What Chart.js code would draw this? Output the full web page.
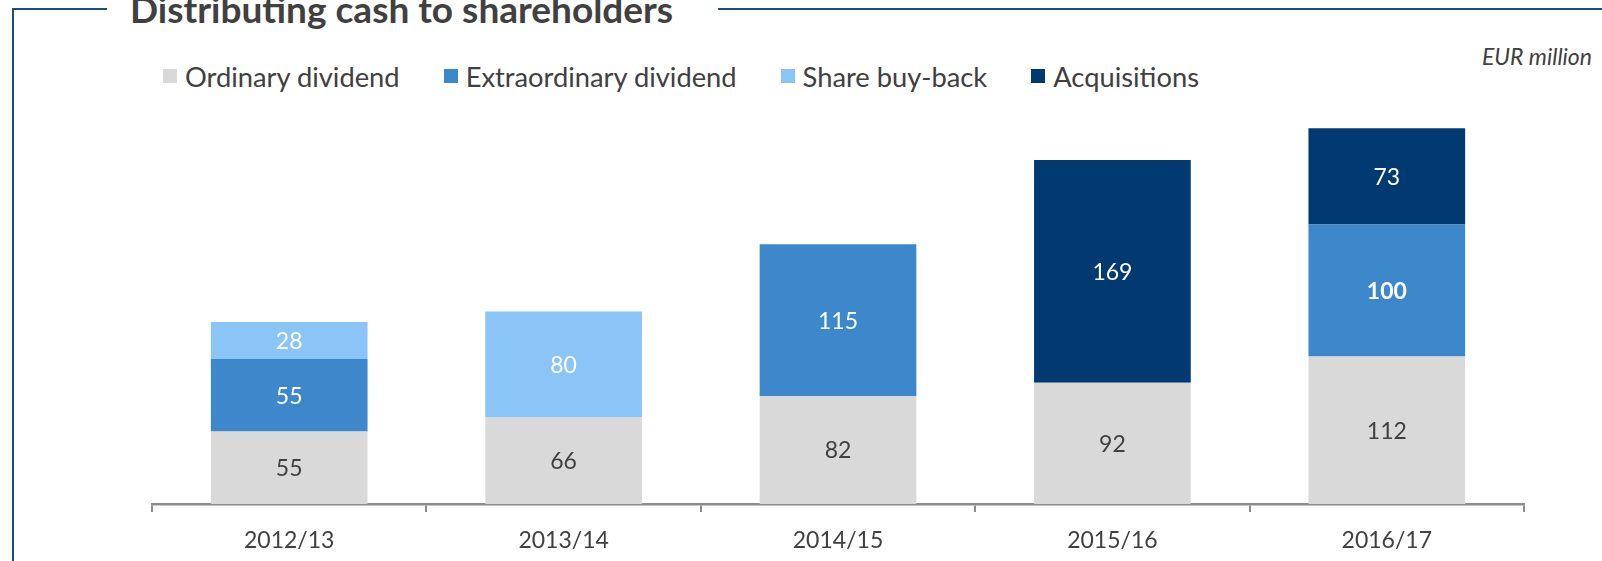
<!DOCTYPE html>
<html>
<head>
<meta charset="utf-8">
<script src="https://cdn.jsdelivr.net/npm/chart.js@4"></script>
<style>
  html, body { margin:0; padding:0; background:#fff; }
  body { width:1602px; height:561px; position:relative; overflow:hidden; font-family:"Lato", sans-serif; color:#404040; }
  .line { position:absolute; background:#1F4E79; }
  #title { position:absolute; left:130px; top:-10px; font-size:37px; font-weight:700; line-height:37px; white-space:nowrap; color:#404040; }
  #unit { position:absolute; right:10px; top:43px; font-size:23px; font-style:italic; line-height:26px; color:#404040; }
  #legend { position:absolute; left:163px; top:61px; height:30px; display:flex; align-items:center; font-size:27.3px; white-space:nowrap; }
  .item { display:flex; align-items:center; margin-right:44px; }
  .sw { width:14px; height:14px; margin-right:8px; }
  #wrap { position:absolute; left:0; top:0; width:1602px; height:561px; }
</style>
</head>
<body>
<div class="line" style="left:12px; top:8px; width:95px; height:2px;"></div>
<div class="line" style="left:718px; top:8px; width:884px; height:2px;"></div>
<div class="line" style="left:12px; top:8px; width:2px; height:553px;"></div>
<div id="title">Distributing cash to shareholders</div>
<div id="unit">EUR million</div>
<div id="legend"></div>
<div id="wrap"><canvas id="c" width="1602" height="561"></canvas></div>
<script>
const categories = ['2012/13', '2013/14', '2014/15', '2015/16', '2016/17'];
const seriesNames = ['Ordinary dividend', 'Extraordinary dividend', 'Share buy-back', 'Acquisitions'];
const ordinaryDividend      = [55, 66, 82, 92, 112];
const extraordinaryDividend = [55, null, 115, null, 100];
const shareBuyBack          = [28, 80, null, null, null];
const acquisitions          = [null, null, null, 169, 73];

const colors = ['#D9D9D9', '#3D88CB', '#8BC4F6', '#003A70'];
const labelColors = ['#404040', '#ffffff', '#ffffff', '#ffffff'];
const boldLabel = { dataset: 1, index: 4 };

// HTML legend
const legendEl = document.getElementById('legend');
seriesNames.forEach((n, i) => {
  const it = document.createElement('div'); it.className = 'item';
  const sw = document.createElement('div'); sw.className = 'sw'; sw.style.background = colors[i];
  const tx = document.createElement('span'); tx.textContent = n;
  it.appendChild(sw); it.appendChild(tx); legendEl.appendChild(it);
});

const barLabels = {
  id: 'barLabels',
  afterDatasetsDraw(chart) {
    const ctx = chart.ctx;
    ctx.save();
    ctx.textAlign = 'center';
    ctx.textBaseline = 'middle';
    chart.data.datasets.forEach((ds, i) => {
      const meta = chart.getDatasetMeta(i);
      meta.data.forEach((bar, j) => {
        const v = ds.data[j];
        if (v == null) return;
        const p = bar.getProps(['x', 'y', 'base'], true);
        const bold = (i === boldLabel.dataset && j === boldLabel.index);
        ctx.font = (bold ? '700 ' : '400 ') + '23px Lato';
        ctx.fillStyle = labelColors[i];
        ctx.fillText(String(v), p.x, (p.y + p.base) / 2 + 1);
      });
    });
    ctx.restore();
  }
};

const seriesData = [ordinaryDividend, extraordinaryDividend, shareBuyBack, acquisitions];

new Chart(document.getElementById('c'), {
  type: 'bar',
  data: {
    labels: categories,
    datasets: seriesNames.map((n, i) => ({
      label: n,
      data: seriesData[i],
      backgroundColor: colors[i],
      borderWidth: 0,
      categoryPercentage: 1,
      barPercentage: 0.571
    }))
  },
  options: {
    responsive: false,
    animation: false,
    events: [],
    layout: { padding: { left: 152, right: 78, top: 108.6, bottom: 0 } },
    plugins: { legend: { display: false }, title: { display: false }, tooltip: { enabled: false } },
    scales: {
      x: {
        stacked: true,
        offset: true,
        grid: { display: true, offset: true, drawOnChartArea: false, drawTicks: true, tickLength: 8, color: '#8C8C8C', lineWidth: 2 },
        border: { display: true, color: '#8C8C8C', width: 2.5 },
        ticks: { color: '#404040', font: { family: 'Lato', size: 23 }, padding: 15 },
        afterFit(scale) { scale.height = 57; }
      },
      y: { stacked: true, display: false, min: 0, max: 300 }
    }
  },
  plugins: [barLabels]
});
</script>
</body>
</html>
